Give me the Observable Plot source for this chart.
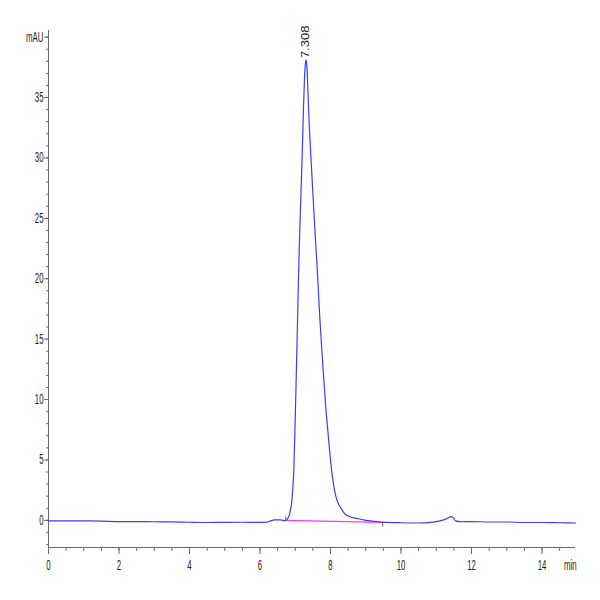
<!DOCTYPE html>
<html>
<head>
<meta charset="utf-8">
<script src="https://cdn.jsdelivr.net/npm/d3@7"></script>
<script src="https://cdn.jsdelivr.net/npm/@observablehq/plot@0.6"></script>
<style>
  html, body { margin: 0; padding: 0; background: #fff; }
  #chart svg { display: block; }
</style>
</head>
<body>
<div id="chart"></div>
<script>
// Chromatogram signal (retention time in min, absorbance in mAU)
const time = [
  0.0, 0.5, 1.0, 1.5, 2.0, 2.5, 3.0, 3.5, 4.0, 4.5, 5.0, 5.5, 6.0, 6.2, 6.3, 6.4, 6.5, 6.6, 6.68, 6.73,
  6.78, 6.82, 6.86, 6.90, 6.93, 6.96, 6.99, 7.02, 7.06, 7.09, 7.12, 7.15, 7.18, 7.21, 7.234, 7.26, 7.285, 7.308,
  7.33, 7.35, 7.376, 7.42, 7.47, 7.52, 7.575, 7.64, 7.70, 7.79, 7.86, 7.94, 8.00, 8.03, 8.09, 8.15, 8.22, 8.30,
  8.40, 8.55, 8.75, 9.0, 9.25, 9.5, 10.0, 10.5, 10.9, 11.1, 11.25, 11.35, 11.42, 11.47, 11.55, 11.7, 12.0,
  12.5, 13.0, 13.5, 14.0, 14.5, 14.95
];
const signal = [
  -0.05, -0.04, -0.05, -0.06, -0.10, -0.10, -0.12, -0.13, -0.16, -0.18, -0.17, -0.16, -0.17, -0.15, -0.05, 0.03, 0.04, 0.03, -0.04, 0.0,
  0.12, 0.33, 0.8, 1.5, 2.6, 4.2, 7.4, 10.9, 15.9, 19.9, 23.2, 26.0, 28.7, 31.6, 34.2, 36.4, 37.7, 38.1,
  37.6, 36.4, 34.2, 31.4, 28.7, 26.0, 23.2, 19.9, 16.6, 12.5, 9.6, 6.9, 5.0, 4.2, 2.9, 2.0, 1.4, 1.0,
  0.55, 0.3, 0.15, 0.0, -0.08, -0.15, -0.20, -0.22, -0.15, -0.05, 0.08, 0.22, 0.30, 0.26, -0.05, -0.12, -0.10,
  -0.14, -0.14, -0.18, -0.18, -0.20, -0.22
];
// Integration baseline of the main peak
const baselineTime = [6.73, 9.48];
const baselineSignal = [0.0, -0.17];
// Peak annotation
const peakTime = [7.308];
const peakHeight = [38.1];
const peakLabel = ["7.308"];
// Axis ticks
const xMajorTicks = [0, 2, 4, 6, 8, 10, 12, 14];
const yMajorTicks = [0, 5, 10, 15, 20, 25, 30, 35, 40];
const yTickLabels = ["0", "5", "10", "15", "20", "25", "30", "35", "mAU"];
const xUnitLabel = "min";
const xDomain = [0, 14.95];
const yDomain = [-2.25, 40.55];

const trace = time.map((t, i) => ({t, v: signal[i]}));
const base = baselineTime.map((t, i) => ({t, v: baselineSignal[i]}));
const peaks = peakTime.map((t, i) => ({t, v: peakHeight[i], label: peakLabel[i]}));
const xMinor = d3.range(xDomain[0], xDomain[1], 0.5);
const yMinor = d3.range(-2, 41, 1);

const axisColor = "#6a6a6a";
const fontFamily = "'Liberation Sans', Arial, sans-serif";

const chart = Plot.plot({
  width: 600,
  height: 600,
  marginLeft: 48,
  marginRight: 25,
  marginTop: 30,
  marginBottom: 53,
  style: {fontFamily, fontSize: "14px", color: "#222", background: "#fff"},
  x: {domain: xDomain},
  y: {domain: yDomain},
  marks: [
    // minor ticks
    Plot.axisX(xMinor, {tickSize: 4, tickFormat: () => "", stroke: axisColor, label: null}),
    Plot.axisY(yMinor, {tickSize: 2, tickFormat: () => "", stroke: axisColor, label: null}),
    // major ticks
    Plot.axisX(xMajorTicks, {tickSize: 7, tickPadding: 6, stroke: axisColor, label: null, fill: "#222", className: "narrow"}),
    Plot.axisY(yMajorTicks, {tickSize: 4, tickPadding: 1, stroke: axisColor, label: null, fill: "#222", className: "narrow",
      tickFormat: (d) => yTickLabels[yMajorTicks.indexOf(d)]}),
    Plot.axisX([14.8], {tickSize: 0, tickPadding: 13, label: null, fill: "#222", className: "narrow", tickFormat: () => xUnitLabel}),
    // axis lines
    Plot.ruleX([xDomain[0]], {stroke: axisColor}),
    Plot.ruleY([yDomain[0]], {stroke: axisColor}),
    // integration baseline
    Plot.line(base, {x: "t", y: "v", stroke: "#ff33ff", strokeWidth: 1.3}),
    Plot.ruleX(base.slice(0, 1), {x: "t", y1: "v", y2: "v", insetTop: -4, stroke: "#555", strokeWidth: 0.8}),
    Plot.ruleX(base.slice(1), {x: "t", y1: "v", y2: "v", insetBottom: -5, stroke: "#555", strokeWidth: 0.8}),
    // signal
    Plot.line(trace, {x: "t", y: "v", stroke: "#3b3bff", strokeWidth: 1.2, curve: "monotone-x"}),
    // peak label
    Plot.text(peaks, {x: "t", y: "v", text: "label", rotate: -90, textAnchor: "start", dy: -2, fill: "#222", fontSize: 10, className: "wide"})
  ]
});

// Mimic the condensed axis font and the extended peak-label font
function stretch(selector, sx) {
  chart.querySelectorAll(selector).forEach((t) => {
    const tr = t.getAttribute("transform");
    if (tr) {
      t.setAttribute("transform", tr + ` scale(${sx},1)`);
    } else {
      const x = +(t.getAttribute("x") || 0), y = +(t.getAttribute("y") || 0);
      t.removeAttribute("x"); t.removeAttribute("y");
      t.setAttribute("transform", `translate(${x},${y}) scale(${sx},1)`);
    }
  });
}
stretch(".narrow text", 0.56);
stretch(".wide text", 1.3);

document.getElementById("chart").appendChild(chart);
</script>
</body>
</html>
